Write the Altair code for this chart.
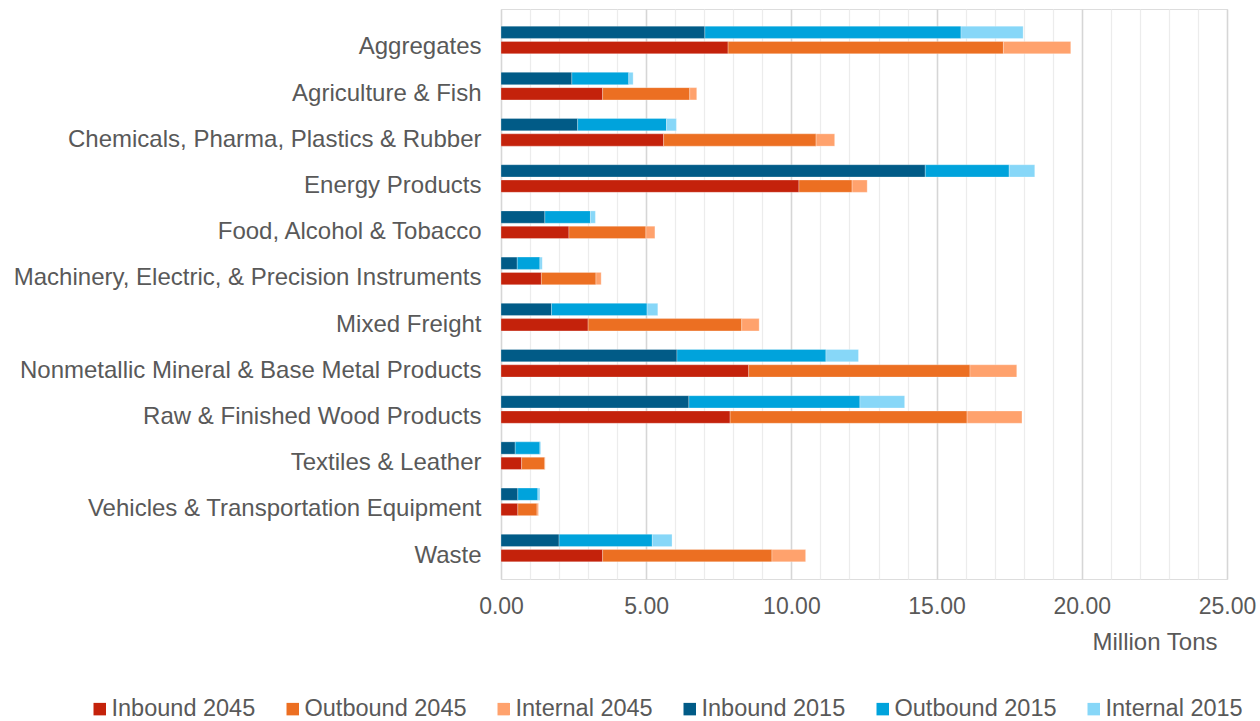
import altair as alt
import pandas as pd

categories = [
    "Aggregates",
    "Agriculture & Fish",
    "Chemicals, Pharma, Plastics & Rubber",
    "Energy Products",
    "Food, Alcohol & Tobacco",
    "Machinery, Electric, & Precision Instruments",
    "Mixed Freight",
    "Nonmetallic Mineral & Base Metal Products",
    "Raw & Finished Wood Products",
    "Textiles & Leather",
    "Vehicles & Transportation Equipment",
    "Waste",
]

inbound_2015 = [7.02, 2.44, 2.64, 14.61, 1.51, 0.56, 1.74, 6.06, 6.47, 0.49, 0.58, 2.00]
outbound_2015 = [8.82, 1.96, 3.06, 2.89, 1.57, 0.78, 3.29, 5.13, 5.89, 0.85, 0.69, 3.21]
internal_2015 = [2.14, 0.15, 0.34, 0.88, 0.17, 0.08, 0.37, 1.12, 1.54, 0.03, 0.07, 0.68]

inbound_2045 = [7.82, 3.50, 5.60, 10.26, 2.34, 1.39, 3.00, 8.53, 7.89, 0.71, 0.58, 3.50]
outbound_2045 = [9.48, 3.00, 5.25, 1.83, 2.65, 1.88, 5.29, 7.62, 8.16, 0.80, 0.66, 5.83]
internal_2045 = [2.32, 0.24, 0.64, 0.52, 0.31, 0.18, 0.60, 1.61, 1.89, 0.01, 0.05, 1.16]

series_names = ["Inbound 2045", "Outbound 2045", "Internal 2045",
                "Inbound 2015", "Outbound 2015", "Internal 2015"]
series_colors = ["#C4220B", "#EC6F22", "#FFA26D", "#015B87", "#00A3DC", "#87D7F8"]

series_data = [
    ("Inbound", "2045", inbound_2045),
    ("Outbound", "2045", outbound_2045),
    ("Internal", "2045", internal_2045),
    ("Inbound", "2015", inbound_2015),
    ("Outbound", "2015", outbound_2015),
    ("Internal", "2015", internal_2015),
]
type_order = {"Inbound": 0, "Outbound": 1, "Internal": 2}

rows = []
for kind, year, values in series_data:
    for cat, v in zip(categories, values):
        rows.append({"category": cat, "year": year, "kind": kind,
                     "series": f"{kind} {year}", "ord": type_order[kind], "value": v})
df = pd.DataFrame(rows)

font = "Liberation Sans"
txt = "#595959"

chart = alt.Chart(df).mark_bar(stroke="white", strokeWidth=0.8, strokeOpacity=0.35).encode(
    y=alt.Y("category:N", sort=categories,
            scale=alt.Scale(paddingInner=0, paddingOuter=0.17),
            axis=alt.Axis(title=None, ticks=False, domain=False, grid=False,
                          labelFontSize=24, labelColor=txt, labelFont=font,
                          labelPadding=20, labelOffset=7.5, labelLimit=600)),
    yOffset=alt.YOffset("year:N", sort=["2015", "2045"],
                        scale=alt.Scale(paddingInner=0.196, paddingOuter=0.608)),
    x=alt.X("value:Q", stack="zero",
            scale=alt.Scale(domain=[0, 25], nice=False),
            axis=alt.Axis(values=list(range(0, 26)),
                          labelExpr="datum.value % 5 === 0 ? format(datum.value, '.2f') : ''",
                          labelOverlap=False, labelFlush=False,
                          ticks=False, domain=False,
                          gridColor={"condition": {"test": "datum.value % 5 === 0", "value": "#d6d6d6"}, "value": "#ececec"},
                          gridWidth={"condition": {"test": "datum.value % 5 === 0", "value": 1.6}, "value": 1.2},
                          labelFontSize=23, labelColor=txt, labelFont=font, labelPadding=16,
                          title="Million Tons", titleFont=font, titleFontSize=24,
                          titleColor=txt, titleFontWeight="normal",
                          titleAlign="right", titleBaseline="middle",
                          titleX=716, titleY=63)),
    color=alt.Color("series:N",
                    scale=alt.Scale(domain=series_names, range=series_colors),
                    legend=alt.Legend(title=None, orient="none", direction="horizontal",
                                      legendX=-413, legendY=688,
                                      symbolType="square", symbolSize=156,
                                      symbolStrokeWidth=0, labelOffset=0,
                                      columnPadding=25, padding=0,
                                      labelFontSize=23.5, labelColor=txt, labelFont=font,
                                      labelLimit=400)),
    order=alt.Order("ord:Q", sort="ascending"),
).properties(
    width=726,
    height=570,
    padding={"left": 501, "top": 9, "right": 33, "bottom": 142},
    autosize=alt.AutoSizeParams(type="none"),
).configure_view(strokeWidth=0, stroke="transparent").configure(background="white")

chart.save("out.html", embed_options={"renderer": "svg", "actions": False})
